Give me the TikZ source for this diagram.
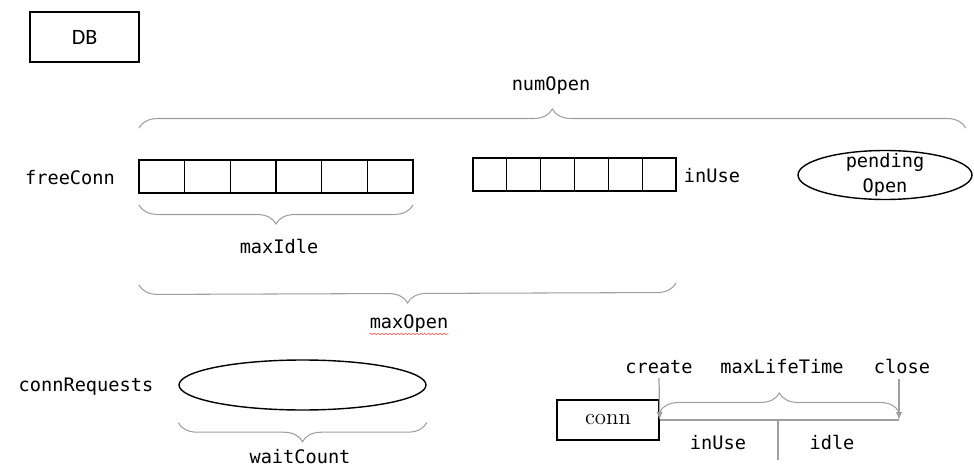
\documentclass[tikz,border=0pt]{standalone}
\usepackage{fontspec}
\setmonofont{DejaVu Sans Mono}
\newfontfamily\dbfont{Carlito}
\usetikzlibrary{arrows.meta, shapes, calc, decorations.pathreplacing, decorations.pathmorphing, positioning}
\tikzset{> = { Latex[length = 1.6mm, width = 1.3mm] }}
\tikzset{
	word/.style = {font = \ttfamily\fontsize{10.6}{14.2}\selectfont, inner sep = 0pt},
	freecell/.style = {draw, line width = 0.7pt, minimum width = 0.913cm, minimum height = 0.66cm, inner sep = 0pt, outer sep = 0pt},
	usecell/.style = {freecell, minimum width = 0.677cm},
	curly/.style = {decorate, decoration = {brace, amplitude = 0.38cm}, draw = gray!75, line width = 0.6pt},
	timeline/.style = {draw = gray!75, line width = 0.7pt},
}

\begin{document}
\begin{tikzpicture}[x = 0.02cm, y = -0.02cm]
		\useasboundingbox (0, 0) rectangle (974, 466);

		\node [draw, line width = 0.8pt, minimum width = 2.18cm, minimum height = 1cm, font = \dbfont\fontsize{12.5}{14}\selectfont] (db) at (84.5, 37) {DB};

		\node [word] (numopen) at (551, 86) {numOpen};
		\node [word] (freeconn) at (70, 178) {freeConn};
		\foreach \i in {0, ..., 5}
			\node [freecell] (f\i) at ({161.8 + 45.67*\i}, 176.5) {};
		\foreach \i in {0, ..., 5}
			\node [usecell] (u\i) at ({489.9 + 33.83*\i}, 174.5) {};
		\node [word] (inuse) at (712, 176) {inUse};
		\node [draw, ellipse, line width = 0.8pt, minimum width = 3.48cm, minimum height = 0.98cm, inner sep = 0pt] (pending) at (885, 175) {};
		\node [word, align = center] at (pending) {pending\\Open};

		\draw [curly] ($(f0.north west) + (0, -32)$) -- coordinate (numtip) ($(pending.east) + (-7, -47)$);
		\draw [curly] ($(f5.south east) + (0, 12)$) -- ($(f0.south west) + (0, 12)$);
		\node [word] (maxidle) at (279, 247) {maxIdle};
		\draw [curly] ($(u5.south east) + (0, 92)$) -- ($(f0.south west) + (0, 92)$);
		\node [word] (maxopen) at (409, 324) {maxOpen};
		\draw [red!65, line width = 0.4pt, decorate, decoration = {snake, amplitude = 0.35pt, segment length = 2.2pt}] ($(maxopen.base west) + (0, 5)$) -- ($(maxopen.base east) + (0, 5)$);

		\node [word] (connrequests) at (86, 387) {connRequests};
		\node [draw, ellipse, line width = 0.8pt, minimum width = 4.94cm, minimum height = 1cm, inner sep = 0pt] (requests) at (302.5, 385) {};
		\draw [curly] ($(requests.east |- requests.south) + (0, 12)$) -- ($(requests.west |- requests.south) + (0, 12)$);
		\node [word] (waitcount) at (300, 457) {waitCount};

		\node [draw, line width = 0.8pt, minimum width = 2.04cm, minimum height = 0.8cm, font = \fontsize{13}{15}\selectfont] (conn) at (608, 420) {conn};
		\coordinate (closed) at (899, 420);
		\coordinate (split) at (778, 420);
		\coordinate (splitend) at (778, 460);
		\draw [timeline] (conn.east) -- (closed);
		\draw [timeline] (split) -- (splitend);
		\draw [curly] ($(conn.east) + (0, -8)$) -- ($(closed) + (0, -8)$);
		\node [word] (create) at (659, 367) {create};
		\node [word] (maxlife) at (782, 367) {maxLifeTime};
		\node [word] (close) at (902, 367) {close};
		\draw [->, timeline] ($(create.south) + (0, 4)$) -- (conn.east);
		\draw [->, timeline] ($(close.south) + (-3, 4)$) -- (closed);
		\node [word] (inuseidle) at (718, 443) {inUse};
		\node [word] (idle) at (832, 443) {idle};
	\end{tikzpicture}
\end{document}
